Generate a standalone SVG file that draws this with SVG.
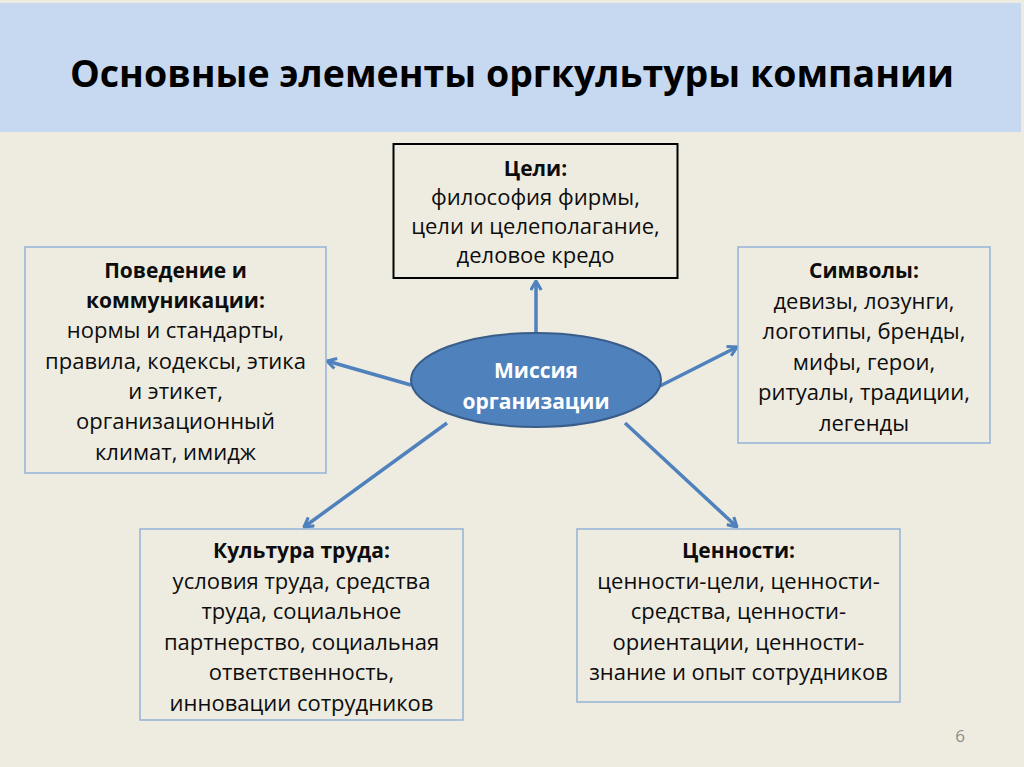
<svg xmlns="http://www.w3.org/2000/svg" width="1024" height="767" viewBox="0 0 1024 767">
  <defs>
    <marker id="arr" viewBox="0 0 10 10" refX="9" refY="5" markerWidth="13" markerHeight="13" markerUnits="userSpaceOnUse" orient="auto">
      <path d="M2,1 L9,5 L2,9" fill="none" stroke="#4F81BD" stroke-width="2.4" stroke-linejoin="miter"/>
    </marker>
  </defs>
  <style>
    .t { font-family: "Open Sans", "Noto Sans", "DejaVu Sans", sans-serif; font-size: 22px; fill: #0d0d0d; text-anchor: middle; }
    .b { font-weight: bold; font-size: 21px; }
    .box { fill: #EEECE1; stroke: #95B3D7; stroke-width: 1.5; }
    .conn { stroke: #4F81BD; stroke-width: 3.5; fill: none; marker-end: url(#arr); }
  </style>
  <rect x="0" y="0" width="1024" height="767" fill="#EEECE1"/>
  <rect x="0" y="3" width="1021" height="129" fill="#C6D9F1"/>
  <text x="512" y="87" font-family="Open Sans, Noto Sans, sans-serif" font-size="37.5" font-weight="bold" text-anchor="middle" fill="#000">Основные элементы оргкультуры компании</text>

  <g id="connectors">
    <line class="conn" x1="536" y1="335" x2="536" y2="281"/>
    <line class="conn" x1="411" y1="385" x2="327" y2="361"/>
    <line class="conn" x1="660" y1="386" x2="737" y2="347"/>
    <line class="conn" x1="447" y1="423" x2="304" y2="527"/>
    <line class="conn" x1="625" y1="423" x2="737" y2="527"/>
  </g>

  <g id="goals">
    <rect x="393.5" y="144" width="284" height="134" fill="#EEECE1" stroke="#000" stroke-width="2"/>
    <text class="t b" x="535.5" y="176">Цели:</text>
    <text class="t" x="535.5" y="205">философия фирмы,</text>
    <text class="t" x="535.5" y="234">цели и целеполагание,</text>
    <text class="t" x="535.5" y="263">деловое кредо</text>
  </g>

  <g id="behavior">
    <rect class="box" x="25" y="247" width="301" height="226"/>
    <text class="t b" x="175.5" y="278">Поведение и</text>
    <text class="t b" x="175.5" y="308">коммуникации:</text>
    <text class="t" x="175.5" y="338">нормы и стандарты,</text>
    <text class="t" x="175.5" y="368.5">правила, кодексы, этика</text>
    <text class="t" x="175.5" y="399">и этикет,</text>
    <text class="t" x="175.5" y="429">организационный</text>
    <text class="t" x="175.5" y="459.5">климат, имидж</text>
  </g>

  <g id="symbols">
    <rect class="box" x="738" y="247" width="252" height="196"/>
    <text class="t b" x="864" y="278">Символы:</text>
    <text class="t" x="864" y="308.5">девизы, лозунги,</text>
    <text class="t" x="864" y="339">логотипы, бренды,</text>
    <text class="t" x="864" y="369.5">мифы, герои,</text>
    <text class="t" x="864" y="400">ритуалы, традиции,</text>
    <text class="t" x="864" y="430.5">легенды</text>
  </g>

  <g id="labor">
    <rect class="box" x="140" y="529" width="323" height="191"/>
    <text class="t b" x="301.5" y="558">Культура труда:</text>
    <text class="t" x="301.5" y="588.5">условия труда, средства</text>
    <text class="t" x="301.5" y="619">труда, социальное</text>
    <text class="t" x="301.5" y="649.5">партнерство, социальная</text>
    <text class="t" x="301.5" y="680">ответственность,</text>
    <text class="t" x="301.5" y="710.5">инновации сотрудников</text>
  </g>

  <g id="values">
    <rect class="box" x="577" y="529" width="323" height="173"/>
    <text class="t b" x="738.5" y="558">Ценности:</text>
    <text class="t" x="738.5" y="588.5">ценности-цели, ценности-</text>
    <text class="t" x="738.5" y="619">средства, ценности-</text>
    <text class="t" x="738.5" y="649.5">ориентации, ценности-</text>
    <text class="t" x="738.5" y="680">знание и опыт сотрудников</text>
  </g>

  <g id="mission">
    <ellipse cx="536" cy="380" rx="125" ry="47" fill="#4F81BD" stroke="#385D8A" stroke-width="2"/>
    <text class="t b" x="536" y="378" style="fill:#fff">Миссия</text>
    <text class="t b" x="536" y="409" style="fill:#fff">организации</text>
  </g>

  <text x="960" y="742" font-family="Open Sans, Noto Sans, sans-serif" font-size="17" fill="#8C8C8C" text-anchor="middle">6</text>
</svg>
